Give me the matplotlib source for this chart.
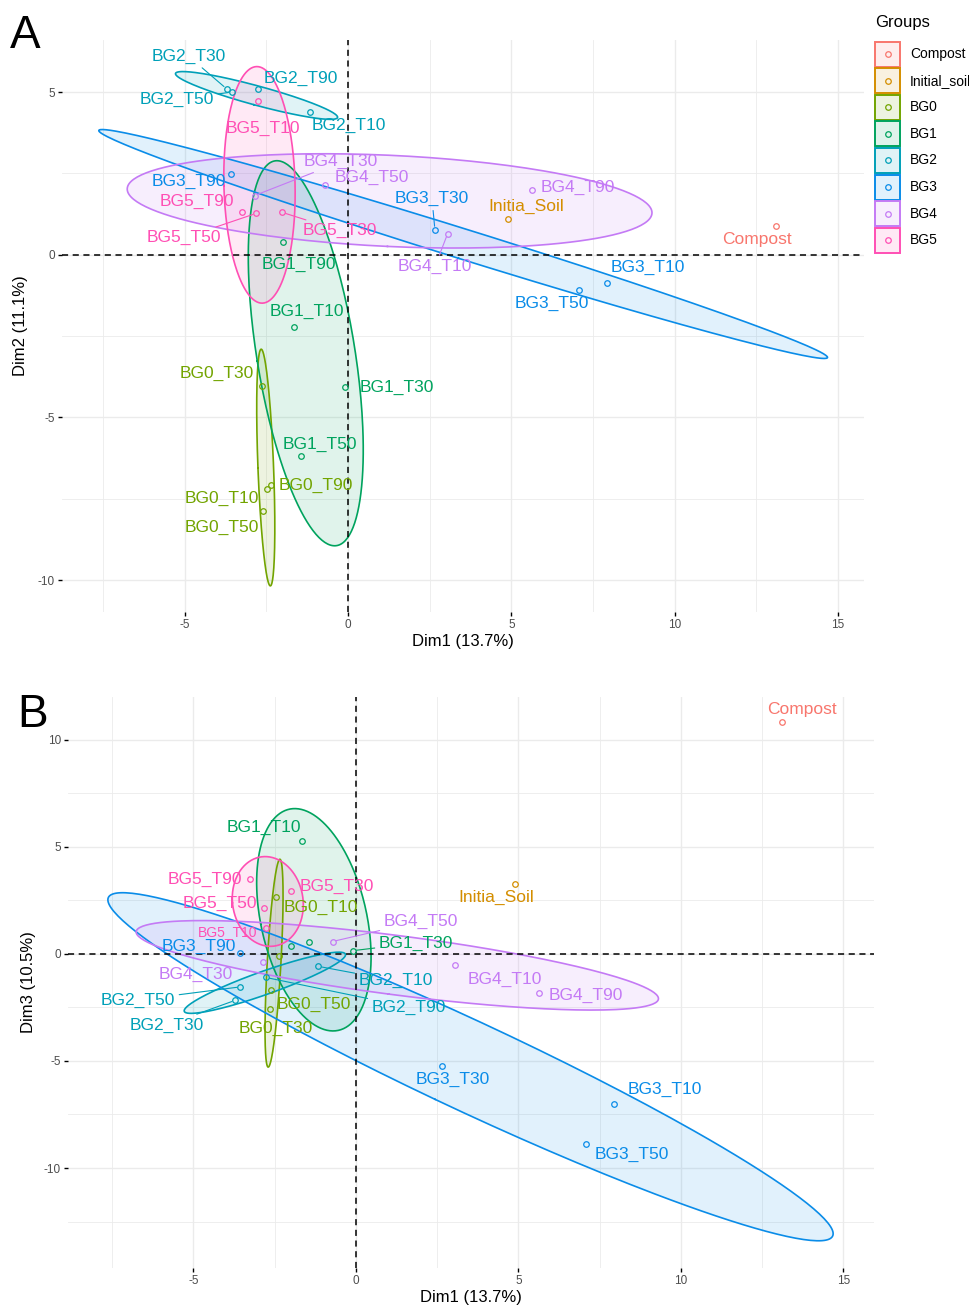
import numpy as np
import matplotlib
matplotlib.use('Agg')
import matplotlib.pyplot as plt
from matplotlib.colors import to_rgba
from matplotlib.patches import Rectangle
from matplotlib.lines import Line2D

plt.rcParams['font.family'] = ['Liberation Sans', 'DejaVu Sans']
plt.rcParams['axes.unicode_minus'] = False

# --- data ---
groups = ['Compost', 'Initial_soil', 'BG0', 'BG1', 'BG2', 'BG3', 'BG4', 'BG5']
group_colors = ['#F8766D', '#D48E00', '#72A400', '#00A35E', '#00A0B8',
                '#0A8CE8', '#C47AF5', '#FF4FB4']

samples = ['Compost', 'Initia_Soil',
           'BG0_T10', 'BG0_T30', 'BG0_T50', 'BG0_T90',
           'BG1_T10', 'BG1_T30', 'BG1_T50', 'BG1_T90',
           'BG2_T10', 'BG2_T30', 'BG2_T50', 'BG2_T90',
           'BG3_T10', 'BG3_T30', 'BG3_T50', 'BG3_T90',
           'BG4_T10', 'BG4_T30', 'BG4_T50', 'BG4_T90',
           'BG5_T10', 'BG5_T30', 'BG5_T50', 'BG5_T90']
sample_group = ['Compost', 'Initial_soil'] + \
    [g for g in ['BG0', 'BG1', 'BG2', 'BG3', 'BG4', 'BG5'] for _ in range(4)]

dim1 = [13.12, 4.90,
        -2.47, -2.65, -2.60, -2.36,
        -1.65, -0.10, -1.43, -2.00,
        -1.16, -3.72, -3.56, -2.77,
        7.93, 2.66, 7.08, -3.57,
        3.05, -2.86, -0.72, 5.62,
        -2.77, -2.01, -2.82, -3.25]
dim2 = [0.89, 1.10,
        -7.19, -4.02, -7.87, -7.08,
        -2.23, -4.06, -6.20, 0.38,
        4.38, 5.10, 5.00, 5.10,
        -0.86, 0.77, -1.08, 2.49,
        0.65, 1.82, 2.15, 2.00,
        4.72, 1.30, 1.27, 1.30]
dim3 = [10.84, 3.27,
        2.65, -2.56, -1.70, -0.12,
        5.26, 0.15, 0.58, 0.39,
        -0.58, -2.17, -1.54, -1.10,
        -7.00, -5.23, -8.88, 0.03,
        -0.50, -0.39, 0.58, -1.82,
        1.23, 2.94, 2.13, 3.50]

# --- label placement (offsets from the point, data units), True = leader line ---
labels_A = {
    'Compost': (-0.59, -0.43, False), 'Initia_Soil': (0.55, 0.38, False),
    'BG0_T10': (-1.39, -0.29, False), 'BG0_T30': (-1.36, 0.36, False),
    'BG0_T50': (-1.26, -0.50, False), 'BG0_T90': (1.38, 0.0, False),
    'BG1_T10': (0.39, 0.48, False), 'BG1_T30': (1.60, -0.03, False),
    'BG1_T50': (0.57, 0.38, False), 'BG1_T90': (0.50, -0.69, False),
    'BG2_T10': (1.19, -0.41, False), 'BG2_T30': (-1.15, 0.99, True),
    'BG2_T50': (-1.68, -0.23, True), 'BG2_T90': (1.33, 0.32, False),
    'BG3_T10': (1.26, 0.46, False), 'BG3_T30': (-0.09, 0.95, True),
    'BG3_T50': (-0.83, -0.43, False), 'BG3_T90': (-1.30, -0.24, False),
    'BG4_T10': (-0.39, -1.02, True), 'BG4_T30': (2.65, 1.04, True),
    'BG4_T50': (1.46, 0.22, False), 'BG4_T90': (1.42, 0.06, False),
    'BG5_T10': (0.17, -0.84, False), 'BG5_T30': (1.76, -0.56, True),
    'BG5_T50': (-2.20, -0.75, True), 'BG5_T90': (-1.37, 0.33, False),
}
labels_B = {
    'Compost': (0.60, 0.56, False), 'Initia_Soil': (-0.59, -0.65, False),
    'BG0_T10': (1.39, -0.50, False), 'BG0_T30': (0.19, -0.90, False),
    'BG0_T50': (1.31, -0.64, False),
    'BG1_T10': (-1.18, 0.67, False), 'BG1_T30': (1.95, 0.36, True),
    'BG2_T10': (2.39, -0.68, True), 'BG2_T30': (-2.10, -1.15, True),
    'BG2_T50': (-3.15, -0.61, True), 'BG2_T90': (4.40, -1.38, True),
    'BG3_T10': (1.58, 0.69, False), 'BG3_T30': (0.32, -0.61, False),
    'BG3_T50': (1.41, -0.47, False), 'BG3_T90': (-1.26, 0.30, False),
    'BG4_T10': (1.53, -0.67, False), 'BG4_T30': (-2.06, -0.59, False),
    'BG4_T50': (2.72, 0.96, True), 'BG4_T90': (1.46, -0.14, False),
    'BG5_T10': (-1.19, -0.20, False), 'BG5_T30': (1.43, 0.19, False),
    'BG5_T50': (-1.36, 0.25, False), 'BG5_T90': (-1.40, 0.0, False),
}

color_of = dict(zip(groups, group_colors))
W, H = 969, 1307


def ellipse_points(x, y, chi2=5.991, n=240):
    # 95% normal ellipse from the group's scores (population covariance)
    pts = np.column_stack([x, y])
    c = pts.mean(axis=0)
    cov = np.cov(pts.T, bias=True)
    vals, vecs = np.linalg.eigh(cov)
    t = np.linspace(0, 2 * np.pi, n)
    circ = np.column_stack([np.cos(t), np.sin(t)]) * np.sqrt(np.clip(vals, 0, None) * chi2)
    e = circ @ vecs.T + c
    return e[:, 0], e[:, 1]


def draw_panel(ax, xs, ys, label_pos, xlim, ylim, yticks, xlabel, ylabel, small=()):
    xs = np.asarray(xs)
    ys = np.asarray(ys)
    grp = np.asarray(sample_group)
    ax.set_xlim(*xlim)
    ax.set_ylim(*ylim)
    ax.set_xticks([-5, 0, 5, 10, 15])
    ax.set_xticks([-7.5, -2.5, 2.5, 7.5, 12.5], minor=True)
    ax.set_yticks(yticks)
    minor_y = [v - 2.5 for v in yticks] + [yticks[-1] + 2.5]
    ax.set_yticks([v for v in minor_y if ylim[0] < v < ylim[1]], minor=True)
    ax.grid(True, which='major', color='#EBEBEB', lw=1.0, zorder=0)
    ax.grid(True, which='minor', color='#EBEBEB', lw=0.6, zorder=0)
    ax.set_axisbelow(True)
    for s in ax.spines.values():
        s.set_visible(False)
    ax.tick_params(which='major', length=3, width=1, color='black',
                   labelsize=8.5, labelcolor='#4D4D4D', pad=2)
    ax.tick_params(which='minor', length=0)

    for g in groups:
        m = grp == g
        if m.sum() < 3:
            continue
        ex, ey = ellipse_points(xs[m], ys[m])
        ax.fill(ex, ey, color=color_of[g], alpha=0.12, lw=0, zorder=1)
        ax.plot(ex, ey, color=color_of[g], lw=1.2, zorder=2)

    ax.axhline(0, color='black', ls=(0, (4, 3)), lw=1.1, zorder=3)
    ax.axvline(0, color='black', ls=(0, (4, 3)), lw=1.1, zorder=3)

    for name, g, x, y in zip(samples, grp, xs, ys):
        col = color_of[g]
        ax.plot(x, y, 'o', ms=4, mfc='none', mec=col, mew=0.9, zorder=4)
        if name not in label_pos:
            continue
        dx, dy, seg = label_pos[name]
        kw = {}
        if seg:
            kw['arrowprops'] = dict(arrowstyle='-', color=col, lw=0.8,
                                    shrinkA=1, shrinkB=2.5)
        fs = 10 if name in small else 12.5
        ax.annotate(name, xy=(x, y), xytext=(x + dx, y + dy), ha='center',
                    va='center', color=col, fontsize=fs, zorder=5, **kw)

    ax.set_xlabel(xlabel, fontsize=12)
    ax.set_ylabel(ylabel, fontsize=12)


fig = plt.figure(figsize=(W / 100, H / 100), dpi=100)
axA = fig.add_axes([62 / W, 1 - 612 / H, 802 / W, 572 / H])
axB = fig.add_axes([68 / W, 1 - 1268 / H, 806 / W, 571 / H])

draw_panel(axA, dim1, dim2, labels_A, (-8.76, 15.8), (-10.98, 6.6),
           [-10, -5, 0, 5], 'Dim1 (13.7%)', 'Dim2 (11.1%)')
draw_panel(axB, dim1, dim3, labels_B, (-8.86, 15.94), (-14.67, 12.0),
           [-10, -5, 0, 5, 10], 'Dim1 (13.7%)', 'Dim3 (10.5%)', small=('BG5_T10',))

axA.xaxis.set_label_coords(0.5, -22 / 572)
axA.yaxis.set_label_coords(-34 / 802, 0.5)
axB.xaxis.set_label_coords(0.5, -22 / 571)
axB.yaxis.set_label_coords(-32 / 806, 0.5)

fig.text(10 / W, 1 - 48 / H, 'A', fontsize=33, va='baseline', ha='left')
fig.text(17 / W, 1 - 727 / H, 'B', fontsize=33, va='baseline', ha='left')

# legend drawn by hand: translucent square + hollow point per group
fig.text(875 / W, 1 - 23 / H, 'Groups', fontsize=12, va='center', ha='left')
box = 25
for i, (g, c) in enumerate(zip(groups, group_colors)):
    cy = 54 + i * 26.6
    fig.add_artist(Rectangle((875 / W, 1 - (cy + box / 2) / H), box / W, box / H,
                             transform=fig.transFigure, facecolor=to_rgba(c, 0.12),
                             edgecolor=c, lw=1.4))
    fig.add_artist(Line2D([(875 + box / 2) / W], [1 - cy / H], transform=fig.transFigure,
                          ls='', marker='o', ms=4, mfc='none', mec=c, mew=0.9))
    fig.text(910 / W, 1 - cy / H, g, fontsize=10, va='center', ha='left')

fig.savefig('out.png', dpi=100)
